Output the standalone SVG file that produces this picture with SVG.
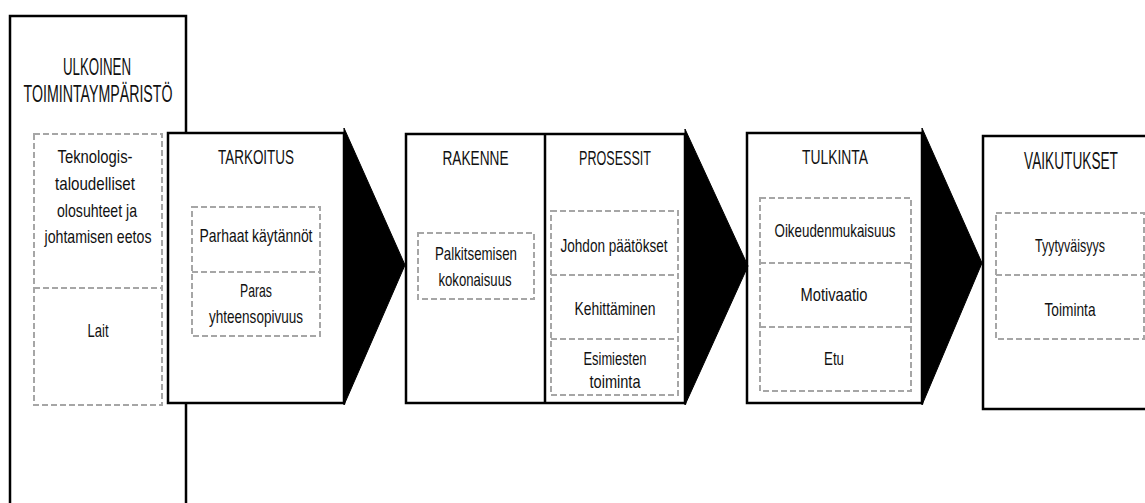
<svg xmlns="http://www.w3.org/2000/svg" width="1145" height="503" viewBox="0 0 1145 503">
<style>
.box{fill:#fff;stroke:#000;stroke-width:2.5}
.tri{fill:#000;stroke:#000;stroke-width:1}
.dash{fill:none;stroke:#a6a6a6;stroke-width:2;stroke-dasharray:6 3}
text{font-family:"Liberation Sans",Arial,sans-serif;fill:#111;text-anchor:middle}
.h{font-size:21px}
.hl{font-size:23px}
.b{font-size:18.5px}
</style>
<g id="ulkoinen">
<rect class="box" x="10" y="16" width="176" height="500"/>
<text class="hl" x="97" y="75" textLength="68" lengthAdjust="spacingAndGlyphs">ULKOINEN</text>
<text class="hl" x="98" y="102" textLength="149" lengthAdjust="spacingAndGlyphs">TOIMINTAYMPÄRISTÖ</text>
<rect class="dash" x="34" y="134" width="128" height="271"/>
<line class="dash" x1="34" y1="288" x2="162" y2="288"/>
<text class="b" x="95" y="163" textLength="75" lengthAdjust="spacingAndGlyphs">Teknologis-</text>
<text class="b" x="95" y="190" textLength="80" lengthAdjust="spacingAndGlyphs">taloudelliset</text>
<text class="b" x="97" y="216.5" textLength="80" lengthAdjust="spacingAndGlyphs">olosuhteet ja</text>
<text class="b" x="98" y="242.5" textLength="107" lengthAdjust="spacingAndGlyphs">johtamisen eetos</text>
<text class="b" x="98" y="337" textLength="21" lengthAdjust="spacingAndGlyphs">Lait</text>
</g>
<g id="tarkoitus">
<rect class="box" x="168" y="133" width="176" height="270"/>
<text class="h" x="256" y="164" textLength="76" lengthAdjust="spacingAndGlyphs">TARKOITUS</text>
<rect class="dash" x="192" y="207" width="128" height="129"/>
<line class="dash" x1="192" y1="272" x2="320" y2="272"/>
<text class="b" x="256" y="242" textLength="113" lengthAdjust="spacingAndGlyphs">Parhaat käytännöt</text>
<text class="b" x="256" y="297" textLength="32" lengthAdjust="spacingAndGlyphs">Paras</text>
<text class="b" x="256" y="322.5" textLength="94" lengthAdjust="spacingAndGlyphs">yhteensopivuus</text>
</g>
<g id="rakenne">
<rect class="box" x="406" y="134" width="279" height="269"/>
<line class="box" x1="545" y1="134" x2="545" y2="403"/>
<text class="h" x="475.5" y="165" textLength="66" lengthAdjust="spacingAndGlyphs">RAKENNE</text>
<rect class="dash" x="418" y="233" width="116" height="66"/>
<text class="b" x="476" y="260" textLength="82" lengthAdjust="spacingAndGlyphs">Palkitsemisen</text>
<text class="b" x="475" y="286" textLength="73" lengthAdjust="spacingAndGlyphs">kokonaisuus</text>
</g>
<g id="prosessit">
<text class="h" x="615" y="165" textLength="72" lengthAdjust="spacingAndGlyphs">PROSESSIT</text>
<rect class="dash" x="551" y="211" width="127" height="184"/>
<line class="dash" x1="551" y1="275" x2="678" y2="275"/>
<line class="dash" x1="551" y1="339" x2="678" y2="339"/>
<text class="b" x="614" y="251.5" textLength="107" lengthAdjust="spacingAndGlyphs">Johdon päätökset</text>
<text class="b" x="615" y="315" textLength="81" lengthAdjust="spacingAndGlyphs">Kehittäminen</text>
<text class="b" x="615" y="365" textLength="63" lengthAdjust="spacingAndGlyphs">Esimiesten</text>
<text class="b" x="615" y="387.5" textLength="51" lengthAdjust="spacingAndGlyphs">toiminta</text>
</g>
<g id="tulkinta">
<rect class="box" x="747" y="133" width="175" height="270"/>
<text class="h" x="835" y="164" textLength="66" lengthAdjust="spacingAndGlyphs">TULKINTA</text>
<rect class="dash" x="760" y="198" width="151" height="193"/>
<line class="dash" x1="760" y1="263" x2="911" y2="263"/>
<line class="dash" x1="760" y1="327" x2="911" y2="327"/>
<text class="b" x="835" y="237" textLength="121" lengthAdjust="spacingAndGlyphs">Oikeudenmukaisuus</text>
<text class="b" x="834" y="301" textLength="67" lengthAdjust="spacingAndGlyphs">Motivaatio</text>
<text class="b" x="834" y="365" textLength="20" lengthAdjust="spacingAndGlyphs">Etu</text>
</g>
<g id="vaikutukset">
<rect class="box" x="983" y="136" width="180" height="273"/>
<text class="hl" transform="translate(1071,169) scale(0.595,1)" x="0" y="0">VAIKUTUKSET</text>
<rect class="dash" x="996" y="213" width="148" height="126"/>
<line class="dash" x1="996" y1="275" x2="1144" y2="275"/>
<text class="b" x="1070" y="252" textLength="70" lengthAdjust="spacingAndGlyphs">Tyytyväisyys</text>
<text class="b" x="1070" y="316" textLength="51" lengthAdjust="spacingAndGlyphs">Toiminta</text>
</g>
<g id="connectors">
<polygon class="tri" points="344,128 405,265 344,405"/>
<polygon class="tri" points="685,129 748,266 685,405"/>
<polygon class="tri" points="922,128 982,263 922,405"/>
</g>
</svg>
